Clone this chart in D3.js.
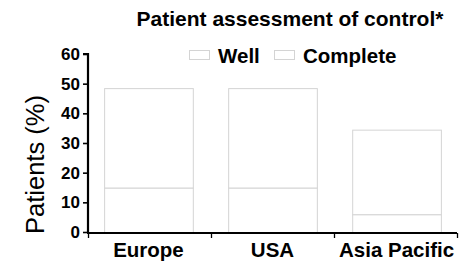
<!DOCTYPE html>
<html>
<head>
<meta charset="utf-8">
<script src="https://cdn.jsdelivr.net/npm/d3@7"></script>
<style>
  html, body { margin: 0; padding: 0; background: #fff; }
  svg { display: block; font-family: "Liberation Sans", Arial, sans-serif; }
</style>
</head>
<body>
<div id="chart"></div>
<script>
// values
const categories = ['Europe', 'USA', 'Asia Pacific'];
const seriesNames = ['Well', 'Complete'];
const completeValues = [15, 15, 6];
const wellValues = [33.5, 33.5, 28.5];
const yTicks = [0, 10, 20, 30, 40, 50, 60];

const width = 459, height = 261;
const margin = { top: 54, right: 2, bottom: 29, left: 88 };

const svg = d3.select('#chart').append('svg')
    .attr('width', width)
    .attr('height', height);

const rows = categories.map((c, i) => ({ cat: c, Complete: completeValues[i], Well: wellValues[i] }));
const stacked = d3.stack().keys(['Complete', 'Well'])(rows);

const x = d3.scaleBand()
    .domain(categories)
    .range([margin.left, width - margin.right])
    .paddingInner(0.285)
    .paddingOuter(0.13);

const xEdges = d3.scaleLinear()
    .domain([0, categories.length])
    .range([margin.left, width - margin.right]);

const y = d3.scaleLinear()
    .domain([0, 60])
    .range([height - margin.bottom, margin.top]);

// bars
svg.append('g')
    .selectAll('g')
    .data(stacked)
    .join('g')
    .selectAll('rect')
    .data(d => d)
    .join('rect')
    .attr('x', d => x(d.data.cat) + 0.5)
    .attr('y', d => y(d[1]) + 0.5)
    .attr('width', x.bandwidth())
    .attr('height', d => y(d[0]) - y(d[1]))
    .attr('fill', '#fff')
    .attr('stroke', '#d4d4d4')
    .attr('stroke-width', 1);

// y axis
const yAxis = svg.append('g')
    .attr('transform', `translate(${margin.left},0)`)
    .call(d3.axisLeft(y).tickValues(yTicks).tickSize(5).tickPadding(3));
yAxis.select('.domain').attr('stroke', '#000').attr('stroke-width', 2.2)
    .attr('d', `M-5,${y(60)}H0V${y(0) + 1}`);
yAxis.selectAll('.tick line').attr('stroke', '#000').attr('stroke-width', 1.6);
yAxis.selectAll('.tick text')
    .attr('font-size', 17)
    .attr('font-weight', 'bold')
    .attr('fill', '#000');

// x axis: ticks at category edges
const xAxis = svg.append('g')
    .attr('transform', `translate(0,${y(0) + 1})`)
    .call(d3.axisBottom(xEdges).ticks(categories.length).tickSize(5).tickFormat(''));
xAxis.select('.domain').attr('stroke', '#000').attr('stroke-width', 2.2)
    .attr('d', `M${margin.left - 1},0H${width - margin.right}`);
xAxis.selectAll('.tick line').attr('stroke', '#000').attr('stroke-width', 1.3);

svg.append('g')
    .selectAll('text')
    .data(categories)
    .join('text')
    .attr('x', d => x(d) + x.bandwidth() / 2)
    .attr('y', 257)
    .attr('text-anchor', 'middle')
    .attr('font-size', 20.5)
    .attr('font-weight', 'bold')
    .text(d => d);

// y label
svg.append('text')
    .attr('transform', `translate(44,${(y(0) + 95) / 2 + 1}) rotate(-90)`)
    .attr('text-anchor', 'middle')
    .attr('font-size', 25.5)
    .text('Patients (%)');

// title
svg.append('text')
    .attr('x', 290)
    .attr('y', 26)
    .attr('text-anchor', 'middle')
    .attr('font-size', 21)
    .attr('font-weight', 'bold')
    .text('Patient assessment of control*');

// legend
const legendX = [189, 274];
const legend = svg.append('g')
    .selectAll('g')
    .data(seriesNames)
    .join('g')
    .attr('transform', (d, i) => `translate(${legendX[i]},50)`);
legend.append('rect')
    .attr('x', 0.5).attr('y', 0.5)
    .attr('width', 20).attr('height', 9)
    .attr('fill', '#fff')
    .attr('stroke', '#d4d4d4');
legend.append('text')
    .attr('x', 29)
    .attr('y', 13)
    .attr('font-size', 20.5)
    .attr('font-weight', 'bold')
    .text(d => d);
</script>
</body>
</html>
